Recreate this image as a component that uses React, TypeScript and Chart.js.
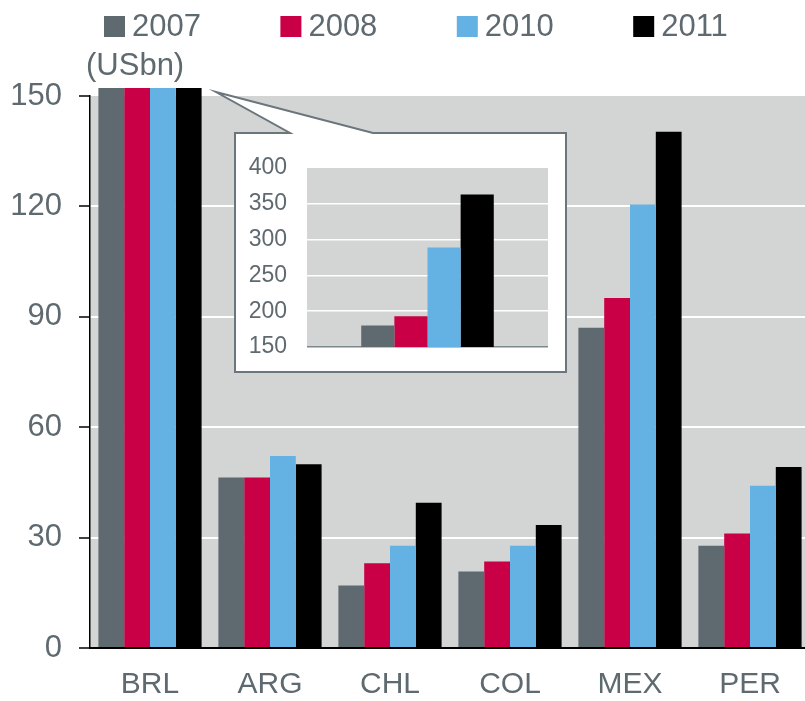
import React, { useEffect, useRef } from "react";
import { Chart, registerables } from "chart.js";

Chart.register(...registerables);

const categories = ["BRL", "ARG", "CHL", "COL", "MEX", "PER"];
const seriesLabels = ["2007", "2008", "2010", "2011"];
const values2007 = [180, 46.3, 17.0, 20.8, 87.0, 27.8];
const values2008 = [193, 46.3, 23.0, 23.5, 95.1, 31.1];
const values2010 = [289, 52.2, 27.8, 27.8, 120.5, 44.1];
const values2011 = [363, 49.9, 39.5, 33.4, 140.3, 49.2];
const mainTicks = [0, 30, 60, 90, 120, 150];
const insetTicks = [150, 200, 250, 300, 350, 400];
const unitLabel = "(USbn)";

const colors = ["#5e6a70", "#c90046", "#64b1e4", "#000000"];
const TEXT = "#5f6a70";
const PLOT_BG = "#d3d5d4";
const FONT = "'Liberation Sans', Arial, Helvetica, sans-serif";

const plotBg = {
  id: "plotBg",
  beforeDraw(chart: any) {
    const { ctx, chartArea } = chart;
    ctx.save();
    ctx.fillStyle = PLOT_BG;
    ctx.fillRect(chartArea.left, chartArea.top, chartArea.right - chartArea.left, chartArea.bottom - chartArea.top);
    ctx.restore();
  },
};

const decorations = {
  id: "decorations",
  afterDraw(chart: any) {
    const { ctx } = chart;
    ctx.save();
    // legend
    ctx.font = `31px ${FONT}`;
    ctx.textBaseline = "middle";
    ctx.textAlign = "left";
    chart.data.datasets.forEach((ds: any, i: number) => {
      const x = 104 + i * 176.4;
      ctx.fillStyle = ds.backgroundColor;
      ctx.fillRect(x, 16, 21, 21);
      ctx.fillStyle = TEXT;
      ctx.fillText(ds.label, x + 28, 27);
    });
    // unit label
    ctx.fillText(unitLabel, 86, 66);
    // callout box
    ctx.beginPath();
    ctx.moveTo(235, 133);
    ctx.lineTo(290, 133);
    ctx.lineTo(216, 92);
    ctx.lineTo(373, 133);
    ctx.lineTo(566, 133);
    ctx.lineTo(566, 372);
    ctx.lineTo(235, 372);
    ctx.closePath();
    ctx.fillStyle = "#ffffff";
    ctx.fill();
    ctx.strokeStyle = "#6b767c";
    ctx.lineWidth = 2;
    ctx.stroke();
    ctx.restore();
  },
};

function MainChart() {
  const ref = useRef<HTMLCanvasElement>(null);
  useEffect(() => {
    const all = [values2007, values2008, values2010, values2011];
    const chart = new Chart(ref.current!, {
      type: "bar",
      data: {
        labels: categories,
        datasets: all.map((v, i) => ({
          label: seriesLabels[i],
          data: v,
          backgroundColor: colors[i],
          borderWidth: 0,
          categoryPercentage: 0.86,
          barPercentage: 1,
          clip: { left: 0, top: 8, right: 0, bottom: 0 } as any,
        })),
      },
      options: {
        animation: false,
        responsive: false,
        layout: { padding: { top: 96, right: 5, left: 0, bottom: 0 } },
        plugins: { legend: { display: false }, tooltip: { enabled: false } },
        scales: {
          x: {
            grid: { display: false, drawTicks: false },
            border: { color: "#000000", width: 2 },
            ticks: { color: TEXT, font: { family: FONT, size: 30 }, padding: 19 },
            afterFit: (s: any) => { s.height = 53; },
          },
          y: {
            min: 0,
            max: 150,
            afterBuildTicks: (s: any) => { s.ticks = mainTicks.map((v) => ({ value: v })); },
            grid: {
              color: (c: any) => (c.tick && (c.tick.value === 0 || c.tick.value === 150) ? "rgba(0,0,0,0)" : "#ffffff"),
              lineWidth: 2,
              tickColor: "#000000",
              tickLength: 11,
              tickWidth: 1.5,
            },
            border: { color: "#000000", width: 1.5 },
            ticks: { color: TEXT, font: { family: FONT, size: 31 }, padding: 17 },
            afterFit: (s: any) => { s.width = 90; },
          },
        },
      },
      plugins: [plotBg, decorations],
    });
    return () => chart.destroy();
  }, []);
  return <canvas ref={ref} width={815} height={701} style={{ position: "absolute", left: 0, top: 0 }} />;
}

function InsetChart() {
  const ref = useRef<HTMLCanvasElement>(null);
  useEffect(() => {
    const all = [values2007, values2008, values2010, values2011];
    const chart = new Chart(ref.current!, {
      type: "bar",
      data: {
        labels: [categories[0]],
        datasets: all.map((v, i) => ({
          label: seriesLabels[i],
          data: [v[0]],
          backgroundColor: colors[i],
          borderWidth: 0,
          categoryPercentage: 0.55,
          barPercentage: 1,
        })),
      },
      options: {
        animation: false,
        responsive: false,
        layout: { padding: { top: 34, right: 16, left: 0, bottom: 23 } },
        plugins: { legend: { display: false }, tooltip: { enabled: false } },
        scales: {
          x: { display: false },
          y: {
            min: 150,
            max: 400,
            afterBuildTicks: (s: any) => { s.ticks = insetTicks.map((v) => ({ value: v })); },
            grid: {
              color: (c: any) =>
                c.tick && c.tick.value === 150 ? "#7d878c" : c.tick && c.tick.value === 400 ? "rgba(0,0,0,0)" : "#ffffff",
              lineWidth: 1.5,
              drawTicks: true,
              tickLength: 20,
              tickColor: "rgba(0,0,0,0)",
            },
            border: { display: false },
            ticks: { color: TEXT, font: { family: FONT, size: 23 }, padding: 0 },
            afterFit: (s: any) => { s.width = 71; },
          },
        },
      },
      plugins: [plotBg],
    });
    return () => chart.destroy();
  }, []);
  return <canvas ref={ref} width={328} height={236} style={{ position: "absolute", left: 236, top: 134 }} />;
}

export default function App() {
  return (
    <div style={{ position: "fixed", left: 0, top: 0, width: 805, height: 701, overflow: "hidden", background: "#fff" }}>
      <MainChart />
      <InsetChart />
    </div>
  );
}
